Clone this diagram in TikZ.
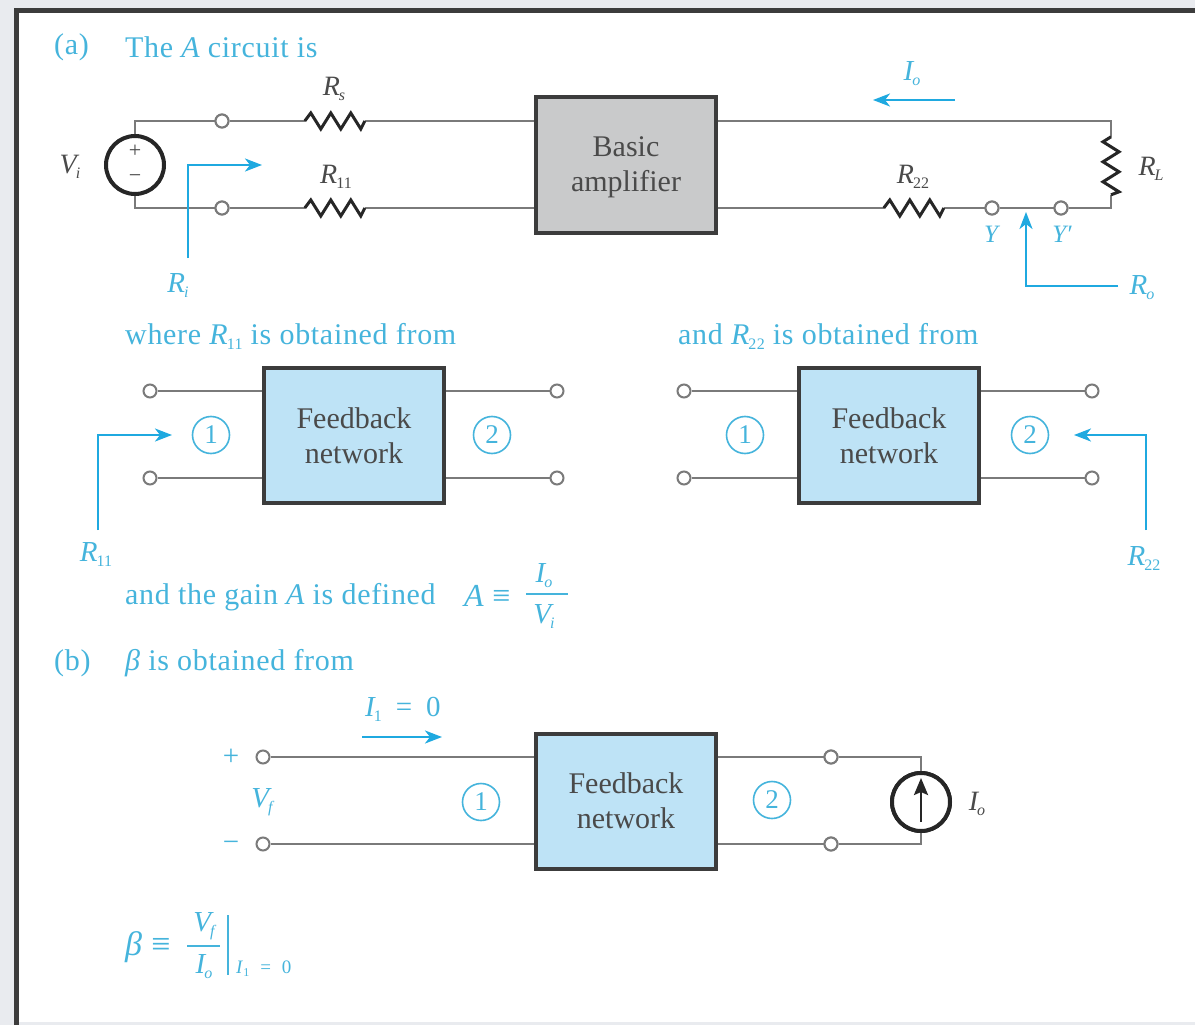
\documentclass[tikz,border=0pt]{standalone}
\usepackage{fontspec}
\setmainfont{Liberation Serif}
\newfontfamily\widefam[LetterSpace=2.3]{Liberation Serif}
\definecolor{cy}{HTML}{1FA9E0}
\definecolor{cytext}{HTML}{45B4DC}
\definecolor{ink}{HTML}{4A4A4A}
\definecolor{wirec}{HTML}{7A7A7A}
\definecolor{blockedge}{HTML}{3C3C3C}
\definecolor{ampfill}{HTML}{C9CACB}
\definecolor{fbfill}{HTML}{BEE3F6}
\definecolor{pagebg}{HTML}{E9EBEF}
\newcommand{\Sy}[2]{{\itshape #1}\kern-1pt\raisebox{-5pt}{\fontsize{16}{16}\selectfont #2}}
\newcommand{\Sz}[2]{{\itshape #1}\kern-1pt\raisebox{-5pt}{\fontsize{16}{16}\selectfont\itshape #2}}
\newcommand{\HZig}[1]{\draw[zig] (#1.west) -- ++(6,-8) -- ++(10,16) -- ++(10,-16) -- ++(10,16) -- ++(10,-16) -- ++(10,16) -- ++(4,-8);}
\newcommand{\VZig}[1]{\draw[zig] (#1.north) -- ++(-8,5) -- ++(16,10) -- ++(-16,10) -- ++(16,10) -- ++(-16,10) -- ++(16,10) -- ++(-8,3);}
\tikzset{
  x=1pt,y=-1pt,
  lab/.style={inner sep=0pt,text=ink,font=\fontsize{28}{30}\selectfont},
  clab/.style={inner sep=0pt,text=cytext,font=\fontsize{29}{32}\selectfont},
  head/.style={inner sep=0pt,text=cytext,anchor=west,font=\widefam\fontsize{30}{32}\selectfont},
  wire/.style={draw=wirec,line width=2pt},
  zig/.style={draw=black!85,line width=3pt,line join=miter},
  term/.style={circle,draw=wirec,line width=2pt,fill=white,minimum size=13pt,inner sep=0pt},
  resbox/.style={inner sep=0pt,minimum width=60pt,minimum height=18pt},
  block/.style={draw=blockedge,line width=4pt,minimum width=180pt,minimum height=135pt,inner sep=0pt,align=center,text=ink,font=\fontsize{30}{35}\selectfont},
  amp/.style={block,fill=ampfill},
  fb/.style={block,fill=fbfill},
  port/.style={circle,draw=cytext,line width=1.6pt,minimum size=37pt,inner sep=0pt,text=cytext,font=\fontsize{27}{27}\selectfont},
  src/.style={circle,draw=black!85,line width=4pt,fill=white,minimum size=58pt,inner sep=0pt},
  cyline/.style={draw=cy,line width=2.4pt,-{Stealth[length=17pt,width=13pt,inset=5pt]}},
  fracbar/.style={draw=cytext,line width=1.6pt}
}
\usetikzlibrary{arrows.meta}
\begin{document}
\begin{tikzpicture}
\useasboundingbox (0,0) rectangle (1195,1025);
\fill[pagebg] (0,0) rectangle (1195,1025);
\fill[white] (16,10) rectangle (1195,1022);
\draw[blockedge,line width=5pt] (16,1025) -- (16,10.5) -- (1195,10.5);

% headings
\node[head] (ha) at (54,47) {(a)};
\node[head] (hat) at (125,47) {The {\itshape A} circuit is};
\node[head] (hw) at (125,336.5) {where \Sy{R}{11} is obtained from};
\node[head] (hr) at (678,336.5) {and \Sy{R}{22} is obtained from};
\node[head] (hg) at (125,597) {and the gain {\itshape A} is defined};
\node[head] (hb) at (54,663) {(b)};
\node[head] (hbt) at (125,663) {{\itshape β} is obtained from};

% A circuit
\node[amp] (ba) at (626,165) {\rule{0pt}{25pt}Basic\\amplifier};
\node[src] (vs) at (135,165) {};
\node[lab,font=\fontsize{22}{22}\selectfont] (vsp) at (135,151) {+};
\node[lab,font=\fontsize{22}{22}\selectfont] (vsm) at (135,179) {−};
\coordinate (ct) at (135,121);
\coordinate (cb) at (135,208);
\node[term] (t1) at (222,121) {};
\node[term] (t2) at (222,208) {};
\node[resbox] (rs) at (335,121) {};
\node[resbox] (r11) at (335,208) {};
\node[resbox] (r22) at (914,208) {};
\node[term] (ty) at (992,208) {};
\node[term] (typ) at (1061,208) {};
\coordinate (crt) at (1111,121);
\coordinate (crb) at (1111,208);
\node[inner sep=0pt,minimum width=18pt,minimum height=58pt] (rl) at (1111,166) {};
\draw[wire] (vs) -- (ct) -- (t1) -- (rs.west);
\draw[wire] (vs) -- (cb) -- (t2) -- (r11.west);
\draw[wire] (rs.east) -- (ba.west |- rs.east);
\draw[wire] (r11.east) -- (ba.west |- r11.east);
\draw[wire] (ba.east |- crt) -- (crt) -- (rl.north);
\draw[wire] (ba.east |- r22.west) -- (r22.west);
\draw[wire] (r22.east) -- (ty) -- (typ) -- (crb) -- (rl.south);
\node[term] at (t1) {};\node[term] at (t2) {};\node[term] at (ty) {};\node[term] at (typ) {};
\HZig{rs}\HZig{r11}\HZig{r22}\VZig{rl}
\node[lab] (lvi) at (70,167) {\Sz{V}{i}};
\node[lab] (lrs) at (334,89) {\Sz{R}{s}};
\node[lab] (lr11) at (336,177) {\Sy{R}{11}};
\node[lab] (lr22) at (913,177) {\Sy{R}{22}};
\node[lab] (lrl) at (1151,169) {\Sz{R}{L}};
\node[clab] (lio) at (912,74) {\Sz{I}{o}};
\coordinate (ioa) at (955,100);
\coordinate (iob) at (873,100);
\draw[cyline] (ioa) -- (iob);
\node[clab,font=\fontsize{25}{25}\selectfont\itshape] (ly) at (991,234) {Y};
\node[clab,font=\fontsize{25}{25}\selectfont\itshape] (lyp) at (1062,234) {Y′};
\node[clab] (lri) at (178,286) {\Sz{R}{i}};
\coordinate (ria) at (188,258);
\coordinate (rib) at (188,165);
\coordinate (ric) at (262,165);
\draw[cyline,line join=miter] (ria) -- (rib) -- (ric);
\node[clab] (lro) at (1142,288) {\Sz{R}{o}};
\coordinate (roa) at (1118,286);
\coordinate (rob) at (1026,286);
\coordinate (roc) at (1026,212);
\draw[cyline] (roa) -- (rob) -- (roc);

% left feedback
\node[fb] (f1) at (354,435) {\rule{0pt}{22pt}Feedback\\network};
\node[term] (a1) at (150,391) {};
\node[term] (a2) at (150,478) {};
\node[term] (a3) at (557,391) {};
\node[term] (a4) at (557,478) {};
\draw[wire] (a1) -- (f1.west |- a1);
\draw[wire] (a2) -- (f1.west |- a2);
\draw[wire] (f1.east |- a3) -- (a3);
\draw[wire] (f1.east |- a4) -- (a4);
\node[port] (p1) at (211,435) {1};
\node[port] (p2) at (492,435) {2};
\node[clab] (l11) at (96,555) {\Sy{R}{11}};
\coordinate (aa) at (98,530);
\coordinate (ab) at (98,435);
\coordinate (ac) at (172,435);
\draw[cyline] (aa) -- (ab) -- (ac);

% right feedback
\node[fb] (f2) at (889,435) {\rule{0pt}{22pt}Feedback\\network};
\node[term] (b1) at (684,391) {};
\node[term] (b2) at (684,478) {};
\node[term] (b3) at (1092,391) {};
\node[term] (b4) at (1092,478) {};
\draw[wire] (b1) -- (f2.west |- b1);
\draw[wire] (b2) -- (f2.west |- b2);
\draw[wire] (f2.east |- b3) -- (b3);
\draw[wire] (f2.east |- b4) -- (b4);
\node[port] (q1) at (745,435) {1};
\node[port] (q2) at (1030,435) {2};
\node[clab] (l22) at (1144,559) {\Sy{R}{22}};
\coordinate (ba1) at (1146,530);
\coordinate (ba2) at (1146,435);
\coordinate (ba3) at (1074,435);
\draw[cyline] (ba1) -- (ba2) -- (ba3);

% A definition
\node[head,font=\widefam\fontsize{32}{32}\selectfont] (adef) at (464,596) {{\itshape A} ≡};
\node[clab] (fn) at (544,576) {\Sz{I}{o}};
\node[clab] (fd) at (544,617) {\Sz{V}{i}};
\coordinate (fl) at (526,594);
\coordinate (fr) at (568,594);
\draw[fracbar] (fl) -- (fr);

% beta circuit
\node[fb] (f3) at (626,801) {Feedback\\network};
\node[term] (c1) at (263,757) {};
\node[term] (c2) at (263,844) {};
\node[term] (c3) at (831,757) {};
\node[term] (c4) at (831,844) {};
\coordinate (cr1) at (921,757);
\coordinate (cr2) at (921,844);
\node[src] (cs) at (921,802) {};
\coordinate (csb) at (921,822);
\coordinate (cst) at (921,778);
\draw[wire] (c1) -- (f3.west |- c1);
\draw[wire] (c2) -- (f3.west |- c2);
\draw[wire] (f3.east |- c3) -- (c3) -- (cr1) -- (cs);
\draw[wire] (f3.east |- c4) -- (c4) -- (cr2) -- (cs);
\node[src] at (cs) {};
\draw[draw=black!85,line width=2.6pt,-{Stealth[length=17pt,width=14pt,inset=3pt]}] (csb) -- (cst);
\node[term] at (c3) {};\node[term] at (c4) {};
\node[lab] (lio2) at (977,804) {\Sz{I}{o}};
\node[port] (r1) at (481,802) {1};
\node[port] (r2) at (772,800) {2};
\node[clab] (li1) at (403,709) {\Sy{I}{1}\hspace{14pt}=\hspace{14pt}0};
\coordinate (i1a) at (362,737);
\coordinate (i1b) at (442,737);
\draw[cyline] (i1a) -- (i1b);
\node[clab] (lp) at (231,757) {+};
\node[clab] (lm) at (231,846) {−};
\node[clab] (lvf) at (262,802) {\Sz{V}{f}};

% beta definition
\node[head,font=\widefam\fontsize{34}{34}\selectfont] (bdef) at (125,947) {{\itshape β} ≡};
\node[clab] (bn) at (204,926) {\Sz{V}{f}};
\node[clab] (bd) at (204,967) {\Sz{I}{o}};
\coordinate (bl) at (187,946);
\coordinate (br) at (220,946);
\coordinate (bt) at (228,915);
\coordinate (bb) at (228,975);
\draw[fracbar] (bl) -- (br);
\draw[fracbar] (bt) -- (bb);
\node[clab,anchor=west,font=\fontsize{19}{19}\selectfont] (bs) at (236,969) {\textit{I}\raisebox{-3pt}{\fontsize{12}{12}\selectfont 1}\hspace{11pt}=\hspace{11pt}0};
\end{tikzpicture}
\end{document}
